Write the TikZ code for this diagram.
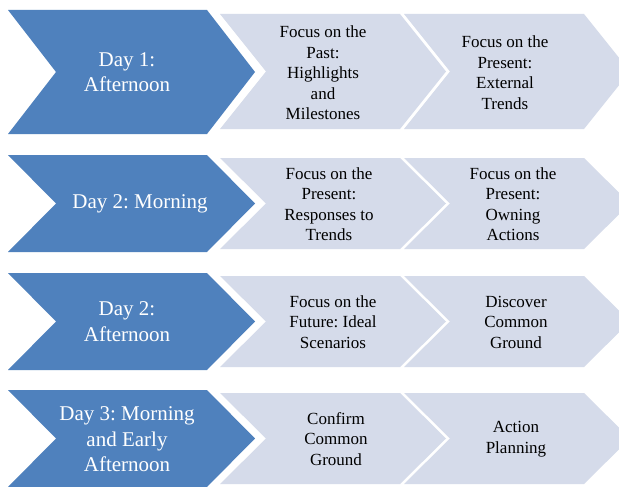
\documentclass[tikz,border=0pt]{standalone}
\usepackage{fontspec}
\setmainfont{Liberation Serif}
\usepackage{tikz}
\usetikzlibrary{positioning}
\definecolor{dayblue}{RGB}{79,129,189}
\definecolor{steplight}{RGB}{213,219,234}
\frenchspacing

\begin{document}
\begin{tikzpicture}[x=1pt, y=-1pt]
        \tikzset{
            dayshape/.style={fill=dayblue},
            stepshape/.style={fill=steplight},
            daytext/.style={text=white, align=center, font=\fontsize{21}{25.5}\selectfont},
            steptext/.style={text=black, align=center, font=\fontsize{17}{20.5}\selectfont}
        }
        \clip (0,0) rectangle (619,487);
        \fill[white] (0,0) rectangle (619,487);

        % Row 1
        \fill[dayshape] (8,10) -- (207,10) -- (255,72) -- (207,134) -- (8,134) -- (56,72) -- cycle;
        \fill[stepshape] (220,14) -- (400,14) -- (446,71.5) -- (400,129) -- (220,129) -- (266,71.5) -- cycle;
        \fill[stepshape] (404,14) -- (584,14) -- (630,71.5) -- (584,129) -- (404,129) -- (450,71.5) -- cycle;
        \node[daytext] (day1) at (127,72) {Day 1:\\Afternoon};
        \node[steptext] (past) at (323,73) {Focus on the\\Past:\\Highlights\\and\\Milestones};
        \node[steptext] (trends) at (505,72.5) {Focus on the\\Present:\\External\\Trends};

        % Row 2
        \fill[dayshape] (8,155) -- (207,155) -- (255,203.5) -- (207,252) -- (8,252) -- (56,203.5) -- cycle;
        \fill[stepshape] (220,158) -- (400,158) -- (446,203.5) -- (400,249) -- (220,249) -- (266,203.5) -- cycle;
        \fill[stepshape] (404,158) -- (584,158) -- (630,203.5) -- (584,249) -- (404,249) -- (450,203.5) -- cycle;
        \node[daytext] (day2m) at (140,203.5) {Day 2: Morning};
        \node[steptext] (responses) at (329,204) {Focus on the\\Present:\\Responses to\\Trends};
        \node[steptext] (owning) at (513,204) {Focus on the\\Present:\\Owning\\Actions};

        % Row 3
        \fill[dayshape] (8,273) -- (207,273) -- (255,321.5) -- (207,370) -- (8,370) -- (56,321.5) -- cycle;
        \fill[stepshape] (220,276) -- (400,276) -- (446,321.5) -- (400,367) -- (220,367) -- (266,321.5) -- cycle;
        \fill[stepshape] (404,276) -- (584,276) -- (630,321.5) -- (584,367) -- (404,367) -- (450,321.5) -- cycle;
        \node[daytext] (day2a) at (127,321.5) {Day 2:\\Afternoon};
        \node[steptext] (future) at (333,322) {Focus on the\\Future: Ideal\\Scenarios};
        \node[steptext] (discover) at (516,322) {Discover\\Common\\Ground};

        % Row 4
        \fill[dayshape] (8,390) -- (207,390) -- (255,438.5) -- (207,487) -- (8,487) -- (56,438.5) -- cycle;
        \fill[stepshape] (220,393) -- (400,393) -- (446,438.5) -- (400,484) -- (220,484) -- (266,438.5) -- cycle;
        \fill[stepshape] (404,393) -- (584,393) -- (630,438.5) -- (584,484) -- (404,484) -- (450,438.5) -- cycle;
        \node[daytext] (day3) at (127,439.5) {Day 3: Morning\\and Early\\Afternoon};
        \node[steptext] (confirm) at (336,439) {Confirm\\Common\\Ground};
        \node[steptext] (planning) at (516,439) {Action\\Planning};

    \end{tikzpicture}
\end{document}
